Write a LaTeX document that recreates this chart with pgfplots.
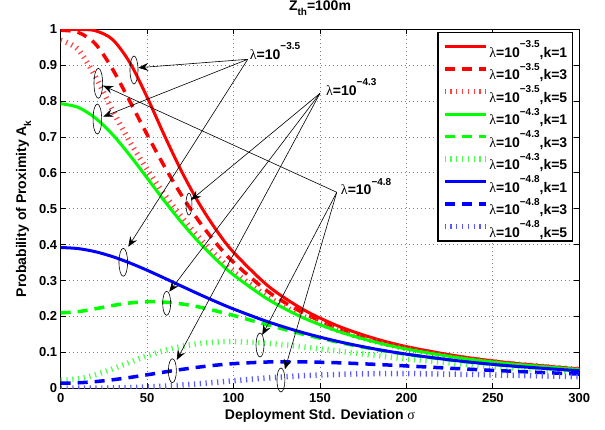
\documentclass[border=0pt]{standalone}
\usepackage{fontspec}
\setmainfont{Liberation Sans}
\newfontfamily\symf{Liberation Serif}
\usepackage{pgfplots}
\pgfplotsset{compat=1.18}
\usepackage{pgfplotstable}
\usetikzlibrary{arrows.meta}

% superscript / subscript in the style of the plot labels
\newcommand{\sups}[1]{\raisebox{9.5pt}{\fontsize{10}{10}\selectfont #1}}
\newcommand{\subs}[1]{\raisebox{-5pt}{\fontsize{10}{10}\selectfont #1}}
\newcommand{\lam}[1]{{\symf\mdseries λ}=10\sups{−#1}}

% probability of proximity A_k vs. deployment std. deviation
% columns: sigma, then (lambda, k) = (3.5,1) (3.5,3) (3.5,5) (4.3,1) (4.3,3) (4.3,5) (4.8,1) (4.8,3) (4.8,5)
\pgfplotstableread{
s   r1     r3     r5     g1     g3     g5     b1     b3     b5
0   1.0000 0.9971 0.9695 0.7929 0.2101 0.0223 0.3922 0.0142 0.0002
10  0.9997 0.9917 0.9445 0.7827 0.2134 0.0263 0.3892 0.0153 0.0002
20  0.9961 0.9597 0.8688 0.7530 0.2215 0.0376 0.3805 0.0186 0.0004
30  0.9716 0.8890 0.7743 0.7068 0.2306 0.0540 0.3668 0.0237 0.0010
40  0.9072 0.7992 0.6868 0.6490 0.2377 0.0724 0.3491 0.0302 0.0020
50  0.8108 0.7067 0.6096 0.5856 0.2411 0.0901 0.3288 0.0376 0.0036
60  0.7043 0.6181 0.5402 0.5219 0.2401 0.1052 0.3069 0.0453 0.0060
70  0.6036 0.5370 0.4770 0.4616 0.2350 0.1167 0.2844 0.0526 0.0091
80  0.5153 0.4653 0.4199 0.4068 0.2265 0.1245 0.2622 0.0591 0.0128
90  0.4408 0.4035 0.3693 0.3582 0.2154 0.1287 0.2409 0.0645 0.0169
100 0.3788 0.3509 0.3251 0.3158 0.2029 0.1299 0.2208 0.0687 0.0211
120 0.2850 0.2690 0.2540 0.2476 0.1762 0.1253 0.1850 0.0733 0.0289
140 0.2202 0.2106 0.2014 0.1971 0.1510 0.1156 0.1552 0.0736 0.0349
160 0.1743 0.1683 0.1624 0.1595 0.1289 0.1041 0.1309 0.0712 0.0387
180 0.1410 0.1370 0.1332 0.1311 0.1102 0.0927 0.1111 0.0671 0.0405
200 0.1161 0.1134 0.1108 0.1094 0.0947 0.0820 0.0951 0.0623 0.0408
230 0.0894 0.0878 0.0862 0.0853 0.0763 0.0683 0.0764 0.0547 0.0392
260 0.0708 0.0698 0.0688 0.0682 0.0624 0.0571 0.0624 0.0477 0.0365
300 0.0537 0.0532 0.0526 0.0522 0.0488 0.0457 0.0488 0.0397 0.0323
}\prox

\definecolor{mred}{rgb}{1,0,0}
\definecolor{mgreen}{rgb}{0,1,0}
\definecolor{mblue}{rgb}{0,0,1}

\tikzset{
  k1/.style={line width=3pt},
  k3/.style={line width=3.5pt, dash pattern=on 10pt off 7pt},
  k5/.style={line width=5.5pt, dash pattern=on 1.2pt off 4.6pt},
  ann/.style={black, line width=0.6pt},
  arr/.style={black, line width=0.6pt, -{Stealth[length=10pt,width=8pt,inset=3.5pt]}},
}

\begin{document}
\begin{tikzpicture}
\useasboundingbox (0pt,0pt) rectangle (605pt,430pt);
\begin{axis}[
  at={(60.7pt,41.7pt)}, anchor=south west,
  scale only axis, width=518.6pt, height=359pt,
  xmin=0, xmax=300, ymin=0, ymax=1,
  xtick={0,50,100,150,200,250,300},
  xticklabels={0,50,100,150,200,250,300},
  ytick={0,0.1,0.2,0.3,0.4,0.5,0.6,0.7,0.8,0.9,1},
  yticklabels={0,0.1,0.2,0.3,0.4,0.5,0.6,0.7,0.8,0.9,1},
  /pgf/number format/assume math mode=true,
  tick align=inside, tick pos=both,
  major tick length=5pt,
  tick style={black, line width=0.8pt},
  axis line style={black, line width=1pt},
  grid=major,
  grid style={gray, line width=0.8pt, dash pattern=on 1pt off 3pt},
  ticklabel style={font=\bfseries\fontsize{13}{15}\selectfont},
  xticklabel style={yshift=-2pt},
  title={Z\subs{th}=100m},
  title style={at={(axis description cs:0.5,1)}, anchor=base, yshift=12.5pt, inner sep=0pt,
    font=\bfseries\fontsize{14}{16}\selectfont},
  xlabel={Deployment Std. Deviation {\symf\mdseries σ}},
  xlabel style={at={(axis description cs:0.5,0)}, anchor=base, yshift=-31.7pt,
    font=\bfseries\fontsize{14}{16}\selectfont},
  ylabel={Probability of Proximity A\subs{k}},
  ylabel style={at={(axis description cs:-0.0669,0.5)}, rotate=0, anchor=base,
    font=\bfseries\fontsize{14}{16}\selectfont},
  clip mode=individual,
  legend style={
    at={(axis description cs:0.9879,0.9925)}, anchor=north east,
    draw=black, line width=1.5pt, fill=white,
    font=\bfseries\fontsize{14}{16}\selectfont,
    inner xsep=4pt, inner ysep=3pt,
    row sep=0pt,
    nodes={inner sep=1pt, text height=20.5pt, text depth=0pt},
  },
  legend cell align=left,
  legend image code/.code={\draw[#1] (0pt,0.3pt) -- (41pt,0.3pt);},
]
\addplot[mred, k1, smooth] table[x=s,y=r1]{\prox};
\addlegendentry{\lam{3.5},k=1}
\addplot[mred, k3, smooth] table[x=s,y=r3]{\prox};
\addlegendentry{\lam{3.5},k=3}
\addplot[mred!75, k5, smooth] table[x=s,y=r5]{\prox};
\addlegendentry{\lam{3.5},k=5}
\addplot[mgreen, k1, smooth] table[x=s,y=g1]{\prox};
\addlegendentry{\lam{4.3},k=1}
\addplot[mgreen, k3, smooth] table[x=s,y=g3]{\prox};
\addlegendentry{\lam{4.3},k=3}
\addplot[mgreen!70, k5, smooth] table[x=s,y=g5]{\prox};
\addlegendentry{\lam{4.3},k=5}
\addplot[mblue, k1, smooth] table[x=s,y=b1]{\prox};
\addlegendentry{\lam{4.8},k=1}
\addplot[mblue, k3, smooth] table[x=s,y=b3]{\prox};
\addlegendentry{\lam{4.8},k=3}
\addplot[mblue!65, k5, smooth] table[x=s,y=b5]{\prox};
\addlegendentry{\lam{4.8},k=5}

% ellipses marking the curves
\draw[ann] (axis cs:42.4,0.8866) ellipse [x radius=4pt, y radius=14pt];
\draw[ann] (axis cs:21.75,0.8496) ellipse [x radius=4.3pt, y radius=15pt];
\draw[ann] (axis cs:21.2,0.750) ellipse [x radius=4.3pt, y radius=15pt];
\draw[ann] (axis cs:74.2,0.513) ellipse [x radius=3pt, y radius=11pt];
\draw[ann] (axis cs:36.2,0.351) ellipse [x radius=4.3pt, y radius=14pt];
\draw[ann] (axis cs:61.3,0.2368) ellipse [x radius=4pt, y radius=12pt];
\draw[ann] (axis cs:64.6,0.049) ellipse [x radius=4pt, y radius=12pt];
\draw[ann] (axis cs:115.3,0.1206) ellipse [x radius=4pt, y radius=12pt];
\draw[ann] (axis cs:127.4,0.0231) ellipse [x radius=4pt, y radius=12pt];

% arrows from the density labels
\draw[arr] (axis cs:108.2,0.9164) -- (axis cs:44.9,0.893);
\draw[arr] (axis cs:108.2,0.9164) -- (axis cs:24.6,0.7565);
\draw[arr] (axis cs:108.2,0.9164) -- (axis cs:39.1,0.3944);
\draw[arr] (axis cs:150.0,0.8217) -- (axis cs:75.4,0.5245);
\draw[arr] (axis cs:150.0,0.8217) -- (axis cs:62.8,0.269);
\draw[arr] (axis cs:150.0,0.8217) -- (axis cs:67.1,0.0788);
\draw[arr] (axis cs:159.7,0.546) -- (axis cs:24.6,0.843);
\draw[arr] (axis cs:159.7,0.546) -- (axis cs:116.6,0.1485);
\draw[arr] (axis cs:159.7,0.546) -- (axis cs:129.7,0.0529);

\node[anchor=base west, inner sep=0pt, xshift=2pt, font=\bfseries\fontsize{14}{16}\selectfont]
  at (axis cs:108.2,0.9164) {\lam{3.5}};
\node[anchor=base west, inner sep=0pt, xshift=6pt, yshift=-1.7pt, font=\bfseries\fontsize{14}{16}\selectfont]
  at (axis cs:150.0,0.8217) {\lam{4.3}};
\node[anchor=base west, inner sep=0pt, xshift=4pt, yshift=-2.5pt, font=\bfseries\fontsize{14}{16}\selectfont]
  at (axis cs:159.7,0.546) {\lam{4.8}};
\end{axis}
\end{tikzpicture}
\end{document}
